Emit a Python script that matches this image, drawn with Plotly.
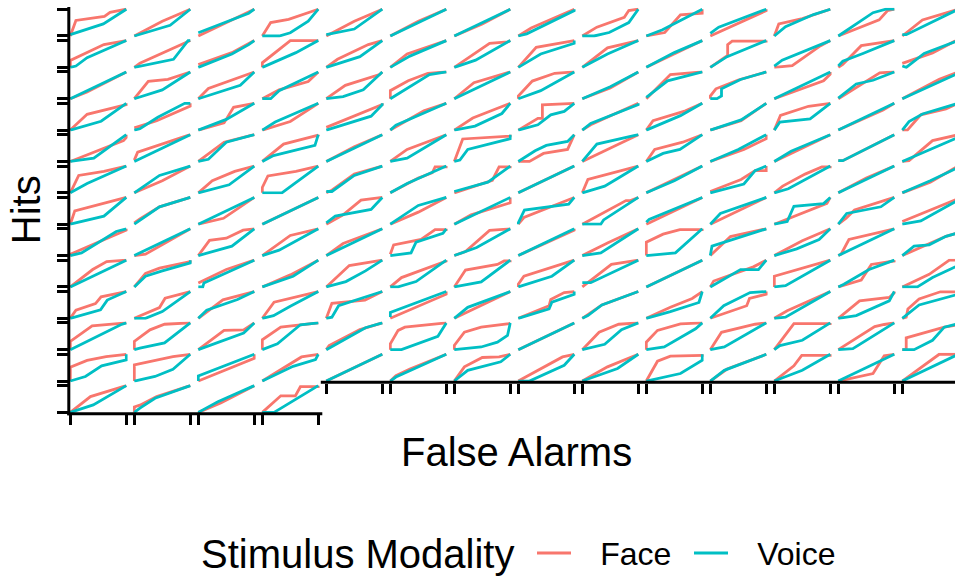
import plotly.graph_objects as go

# ---------------- data: ROC points (false-alarm rate, hit rate) per participant panel ----------------
FACE_CURVES = [
    # row 1
    [(0,0),(0.1,0.58),(0.61,0.73),(0.71,0.88),(1,1)],
    [(0,0),(0.5,0.55),(1,1)],
    [(0,0),(0.95,0.95),(1,1)],
    [(0,0),(0.15,0.5),(0.47,0.62),(1,1)],
    [(0,0),(0.5,0.55),(1,1)],
    [(0,0),(0.5,0.55),(1,1)],
    [(0,0),(0.5,0.45),(1,1)],
    [(0,0),(0.23,0.3),(1,1)],
    [(0,0),(0.26,0.33),(0.75,0.7),(0.83,0.95),(1,1)],
    [(0,0),(0.33,0.13),(0.61,0.79),(1,0.85),(1,1)],
    [(0,0),(1,0.95),(1,1)],
    [(0,0),(0.08,0.45),(0.5,0.65),(1,1)],
    [(0,0),(0.73,0.6),(0.88,0.95),(1,1)],
    [(0,0),(0.36,0.6),(1,1)],
    # row 2
    [(0,0),(0,0.26),(0.6,0.85),(1,1)],
    [(0,0),(0.1,0.15),(1,1)],
    [(0,0.1),(0.6,0.55),(1,1)],
    [(0,0),(0,0.17),(0.5,1),(1,1)],
    [(0,0),(0.2,0.3),(0.75,0.85),(1,1)],
    [(0,0),(0.3,0.5),(1,1)],
    [(0,0),(0.63,0.9),(0.95,0.95),(1,1)],
    [(0,0),(0.32,0.75),(1,1)],
    [(0,0),(0.45,0.73),(1,1)],
    [(0,0),(0.5,0.5),(1,1)],
    [(0,0),(0.31,0.45),(0.31,0.85),(0.39,0.98),(1,0.98),(1,1)],
    [(0,0),(0.32,0.06),(0.82,0.8),(1,1)],
    [(0,0),(0.08,0.11),(0.41,0.81),(1,1)],
    [(0,0.15),(0.54,0.54),(0.93,0.97),(1,1)],
    # row 3
    [(0,0),(0.3,0.25),(1,1)],
    [(0,0),(0.25,0.65),(0.6,0.72),(1,1)],
    [(0,0),(0.18,0.38),(1,1)],
    [(0,0),(0.3,0.33),(0.82,0.64),(1,1)],
    [(0,0),(0.34,0.5),(0.95,0.9),(1,1)],
    [(0,0),(0,0.3),(0.32,0.67),(0.67,0.95),(1,1)],
    [(0,0),(0.35,0.6),(1,1)],
    [(0,0),(0,0.1),(0.25,0.66),(0.65,0.95),(1,1)],
    [(0,0),(0.5,0.4),(1,1)],
    [(0,0),(0.43,0.9),(1,1)],
    [(0,0),(0,0.1),(0.1,0.37),(0.5,0.7),(1,1)],
    [(0,0),(0.88,0.67),(1,0.92),(1,1)],
    [(0,0),(0.38,0.5),(0.74,0.97),(1,1)],
    [(0,0),(0.66,0.73),(1,1)],
    # row 4
    [(0,0),(0.3,0.59),(1,0.95),(1,1)],
    [(0,0.08),(0.4,0.35),(1,0.9),(1,1)],
    [(0,0),(0.46,0.27),(0.63,0.85),(1,1)],
    [(0,0),(0.5,0.32),(1,1)],
    [(0,0.1),(0.95,0.88),(1,0.95),(1,1)],
    [(0,0),(0.6,0.72),(1,1)],
    [(0,0),(0.33,0.45),(0.75,0.8),(0.95,0.95),(1,1)],
    [(0,0),(0.35,0.44),(0.43,0.44),(0.43,0.94),(1,1)],
    [(0,0),(0.15,0.2),(1,1)],
    [(0,0),(0.12,0.35),(0.7,0.72),(1,1)],
    [(0,0),(0.55,0.35),(1,1)],
    [(0,0),(0.11,0.55),(0.61,0.89),(1,1)],
    [(0,0),(0.8,0.75),(1,1)],
    [(0,0),(0.09,0),(0.33,0.57),(0.78,0.79),(1,1)],
    # row 5
    [(0,0),(0.55,0.45),(0.95,0.78),(1,0.9),(1,1)],
    [(0,0.05),(0.06,0.35),(1,1)],
    [(0,0),(0.2,0.3),(0.46,0.72),(1,1)],
    [(0,0),(0.38,0.65),(1,0.98),(1,1)],
    [(0,0),(0.5,0.55),(1,1)],
    [(0,0),(0.3,0.45),(1,1)],
    [(0,0),(0.15,0.84),(1,0.95),(1,1)],
    [(0,0),(0.2,0),(0.45,0.3),(0.88,0.45),(1,1)],
    [(0,0),(1,1)],
    [(0,0),(0.15,0.45),(0.65,0.72),(1,1)],
    [(0,0),(0.6,0.45),(1,0.85),(1,1)],
    [(0,0),(1,1)],
    [(0,0.03),(0.08,0.03),(1,1)],
    [(0,0),(0.12,0.03),(0.54,0.78),(1,1)],
    # row 6
    [(0,0),(0.15,0.65),(0.6,0.8),(1,1)],
    [(0,0),(0.5,0.45),(1,1)],
    [(0,0),(0.25,0.45),(0.65,0.8),(1,1)],
    [(0,0),(0,0.2),(0.1,0.63),(0.6,0.8),(1,1)],
    [(0,0),(0.1,0.1),(0.5,0.7),(1,1)],
    [(0,0),(0.5,0.55),(0.75,0.75),(0.8,0.97),(1,0.97),(1,1)],
    [(0,0),(0.68,0.47),(0.8,0.97),(1,0.97),(1,1)],
    [(0,0),(1,1)],
    [(0,0),(0.1,0.5),(1,1)],
    [(0,0),(0.5,0.5),(1,1)],
    [(0,0.05),(0.55,0.5),(0.8,0.83),(1,0.83),(1,1)],
    [(0,0),(0.15,0.25),(0.55,0.7),(0.85,0.97),(1,0.97),(1,1)],
    [(0,0),(0.5,0.55),(1,1)],
    [(0,0),(0.5,0.4),(1,1)],
    # row 7
    [(0,0),(0.08,0.5),(1,1)],
    [(0,0.05),(0.1,0.2),(0.45,0.65),(0.95,0.95),(1,1)],
    [(0,0),(0.45,0.22),(1,1)],
    [(0,0),(1,1)],
    [(0,0),(0.3,0.35),(0.62,0.9),(1,1)],
    [(0,0),(0.5,0.45),(1,1)],
    [(0,0),(0.3,0.35),(1,0.8),(1,1)],
    [(0,0),(0.1,0.25),(1,1)],
    [(0,0),(0.78,0.88),(0.86,0.88),(1,1)],
    [(0,0),(1,1)],
    [(0,0),(1,1)],
    [(0,0),(0.94,0.78),(1,1)],
    [(0,0),(0.14,0.22),(0.29,0.53),(1,1)],
    [(0,0.1),(1,0.95),(1,1)],
    # row 8
    [(0,0.05),(0.5,0.5),(1,0.95),(1,1)],
    [(0,0),(0.2,0.05),(1,1)],
    [(0,0),(0.2,0.57),(0.5,0.65),(0.8,0.95),(1,1)],
    [(0,0),(0.5,0.75),(1,1)],
    [(0,0),(0.3,0.45),(1,1)],
    [(0,0.05),(0.06,0.4),(0.55,0.6),(0.8,0.97),(1,0.97),(1,1)],
    [(0,0),(0.2,0.15),(0.63,0.94),(1,1)],
    [(0,0),(1,0.95),(1,1)],
    [(0,0),(0.45,0.47),(1,1)],
    [(0,0),(0,0.5),(0.3,0.8),(0.6,0.97),(1,0.97),(1,1)],
    [(0,0),(0.36,0.71),(1,1)],
    [(0,0),(0.5,0.55),(1,1)],
    [(0,0),(0.05,0.05),(0.19,0.6),(0.7,0.85),(1,1)],
    [(0,0),(0.48,0.44),(0.78,0.72),(1,0.85),(1,1)],
    # row 9
    [(0,0),(0.4,0.65),(0.65,0.95),(1,1)],
    [(0,0),(0.2,0.5),(0.45,0.7),(1,0.95),(1,1)],
    [(0,0.15),(0.5,0.65),(1,1)],
    [(0,0),(0.5,0.45),(1,1)],
    [(0,0),(0.41,0.8),(1,1)],
    [(0,0),(0.2,0.35),(1,0.97),(1,1)],
    [(0,0),(0.2,0.63),(0.77,0.84),(0.89,0.97),(1,0.97),(1,1)],
    [(0,0),(0,0.1),(0.1,0.4),(1,1)],
    [(0,0),(0.52,0.84),(1,1)],
    [(0,0),(1,1)],
    [(0,0),(0.06,0.22),(0.77,0.75),(1,1)],
    [(0,0),(0,0.4),(1,1)],
    [(0,0),(0.41,0.26),(0.59,0.84),(1,0.97),(1,1)],
    [(0,0),(0.48,0.47),(0.84,1),(1,1)],
    # row 10
    [(0,0),(0.1,0.3),(0.45,0.55),(0.55,0.8),(1,1)],
    [(0,0),(0.45,0.4),(0.55,0.75),(1,1)],
    [(0,0),(0.44,0.69),(1,1)],
    [(0,0),(0.21,0.6),(1,1)],
    [(0,0),(0.1,0.56),(0.69,0.68),(1,1)],
    [(0,0),(1,0.9),(1,1)],
    [(0,0),(1,1)],
    [(0,0),(0.55,0.47),(0.58,0.7),(0.82,0.96),(1,1)],
    [(0,0),(0.35,0.5),(1,1)],
    [(0,0),(0.43,0.41),(0.82,0.74),(1,1)],
    [(0,0),(0.65,0.47),(0.7,0.74),(1,0.9),(1,1)],
    [(0,0),(0.23,0.28),(1,1)],
    [(0,0),(0.38,0.65),(0.91,0.78),(1,0.95),(1,1)],
    [(0,0),(0.07,0.04),(0.1,0.35),(0.3,0.72),(0.68,0.99),(1,0.99)],
    # row 11
    [(0,0),(0,0.31),(0.39,0.89),(1,0.99),(1,1)],
    [(0,0),(0,0.31),(0.28,0.74),(0.54,0.95),(1,1)],
    [(0,0),(0.46,0.72),(0.81,0.74),(1,1)],
    [(0,0),(0,0.37),(0.33,0.84),(0.68,0.93),(1,1)],
    [(0,0),(0.05,0.15),(0.6,0.75),(1,1)],
    [(0,0),(0,0.22),(0.14,0.72),(0.26,0.84),(1,1)],
    [(0,0),(0,0.16),(0.18,0.65),(0.48,0.84),(0.98,0.97),(1,1)],
    [(0,0),(1,1)],
    [(0,0),(0.3,0.65),(0.65,0.95),(1,1)],
    [(0,0),(0,0.28),(0.2,0.72),(0.61,0.96),(1,1)],
    [(0,0),(0.2,0.65),(0.8,0.95),(1,1)],
    [(0,0),(0.35,0.97),(1,0.97),(1,1)],
    [(0,0),(0.65,0.86),(0.82,0.94),(1,1)],
    [(0,0),(0.07,0),(0.07,0.44),(0.75,0.84),(1,0.93)],
    # row 12
    [(0,0),(0,0.52),(0.3,0.77),(0.64,0.91),(1,1)],
    [(0,0),(0,0.6),(0.69,0.91),(1,1)],
    [(0,0),(1,0.85),(1,1)],
    [(0,0),(0.4,0.52),(0.7,0.9),(1,1)],
    [(0,0),(1,1)],
    [(0,0),(0.1,0.2),(0.35,0.45),(1,1)],
    [(0,0),(0.18,0.53),(0.5,0.88),(0.8,0.9),(1,1)],
    [(0,0),(0.79,0.9),(1,1)],
    [(0,0),(0.45,0.53),(1,1)],
    [(0,0),(0.2,0.74),(0.43,0.93),(1,0.96),(1,1)],
    [(0,0),(0.3,0.45),(1,1)],
    [(0,0),(0.35,0.57),(0.49,0.96),(1,0.96),(1,1)],
    [(0,0),(0.62,0.28),(0.82,0.94),(1,1)],
    [(0,0),(0.66,1),(1,1)],
    # row 13
    [(0,0),(0.36,0.59),(1,1)],
    [(0,0),(0,0.2),(0.1,0.27),(0.4,0.59),(1,1)],
    [(0,0),(0.4,0.35),(1,1)],
    [(0,0),(0.33,0.62),(0.59,0.62),(0.68,0.96),(1,0.96),(1,1)],
]

VOICE_CURVES = [
    # row 1
    [(0,0.05),(0.59,0.45),(1,1)],
    [(0,0),(0.64,0.4),(1,1)],
    [(0,0.12),(0.6,0.6),(0.9,0.85),(1,1)],
    [(0,0),(0.3,0),(0.5,0.12),(0.82,0.55),(1,1)],
    [(0,0.05),(0.5,0.26),(1,1)],
    [(0,0),(0.5,0.5),(1,1)],
    [(0,0),(0.5,0.5),(1,1)],
    [(0,0),(0.15,0.08),(1,0.95),(1,1)],
    [(0,0),(0.21,0),(0.48,0.13),(0.83,0.5),(1,1)],
    [(0,0),(0.29,0.23),(1,1)],
    [(0,0.1),(0.15,0.33),(1,1)],
    [(0,0),(0.2,0.35),(0.7,0.8),(1,1)],
    [(0,0),(0.62,0.87),(0.85,1),(1,1)],
    [(0,0.05),(0.07,0.05),(1,1)],
    # row 2
    [(0,0),(0.1,0.05),(0.3,0.36),(1,1)],
    [(0,0),(0.7,0.3),(0.96,1),(1,1)],
    [(0,0),(0.6,0.5),(0.9,0.85),(1,1)],
    [(0,0),(0.6,0.55),(1,1)],
    [(0,0),(0.6,0.4),(1,1)],
    [(0,0),(0.35,0.42),(1,1)],
    [(0,0),(0.38,0.27),(1,1)],
    [(0,0),(0.4,0.5),(1,0.9),(1,1)],
    [(0,0),(0.45,0.5),(1,1)],
    [(0,0),(0.5,0.55),(1,1)],
    [(0,0),(0.3,0.4),(1,1)],
    [(0,0.05),(0.14,0.27),(1,1)],
    [(0,0.05),(0.08,0.23),(0.44,0.52),(1,1)],
    [(0,0.05),(0.07,0),(0.39,0.52),(1,1)],
    # row 3
    [(0,0),(0.3,0.3),(1,1)],
    [(0,0),(0.5,0.33),(1,1)],
    [(0,0),(0.75,0.5),(1,1)],
    [(0,0),(0.15,0),(0.3,0.3),(1,1)],
    [(0,0),(0.3,0.08),(0.66,0.33),(1,1)],
    [(0,0),(0.7,0.9),(1,1)],
    [(0,0),(0.5,0.5),(1,1)],
    [(0,0),(0.4,0.3),(1,1)],
    [(0,0),(0.5,0.45),(1,1)],
    [(0,0.05),(0.38,0.67),(1,1)],
    [(0,0),(0.12,0),(0.2,0.1),(0.2,0.37),(0.54,0.72),(1,1)],
    [(0,0),(1,1)],
    [(0,0.02),(0.32,0.55),(0.62,0.69),(1,1)],
    [(0,0),(1,0.95),(1,1)],
    # row 4
    [(0,0),(0.55,0.33),(1,1)],
    [(0,0),(0.1,0.05),(0.42,0.48),(0.9,1),(1,1)],
    [(0,0),(0.5,0.4),(1,1)],
    [(0,0),(0.23,0.3),(1,1)],
    [(0,0),(0.8,0.52),(1,0.95),(1,1)],
    [(0,0),(0.1,0.18),(1,1)],
    [(0,0),(0.37,0.15),(0.85,0.62),(1,1)],
    [(0,0),(0.35,0.2),(0.58,0.57),(0.82,0.7),(1,1)],
    [(0,0),(0.15,0.25),(1,0.95),(1,1)],
    [(0,0),(0.61,0.54),(1,1)],
    [(0,0),(0.55,0.38),(1,1)],
    [(0,0),(0.1,0.3),(0.64,0.42),(1,1)],
    [(0,0),(1,1)],
    [(0,0),(0.12,0.32),(0.36,0.6),(1,1)],
    # row 5
    [(0,0),(0.42,0.12),(1,1)],
    [(0,0),(1,1)],
    [(0,0),(0.18,0.08),(0.5,0.72),(1,1)],
    [(0,0),(0.2,0.22),(0.94,0.6),(1,1)],
    [(0,0),(0.5,0.5),(1,1)],
    [(0,0),(0.3,0.12),(1,1)],
    [(0,0),(0.1,0.05),(0.24,0.45),(1,0.85),(1,1)],
    [(0,0),(0.3,0.4),(0.5,0.6),(0.88,0.75),(1,1)],
    [(0,0),(0.26,0.65),(1,1)],
    [(0,0),(0.3,0.3),(0.6,0.45),(1,1)],
    [(0,0),(0.5,0.45),(1,1)],
    [(0,0),(0.3,0.38),(1,1)],
    [(0,0.03),(0.08,0.03),(1,1)],
    [(0,0),(1,0.9),(1,1)],
    # row 6
    [(0,0),(0.3,0.35),(1,1)],
    [(0,0),(0.45,0.65),(1,1)],
    [(0,0),(0.55,0.3),(1,1)],
    [(0,0),(0.35,0),(0.58,0.35),(1,1)],
    [(0,0.05),(0.1,0.05),(0.5,0.65),(1,1)],
    [(0,0),(0.3,0.35),(1,1)],
    [(0,0.05),(0.6,0.4),(1,1)],
    [(0,0),(1,1)],
    [(0,0),(0.4,0.25),(0.6,0.5),(1,1)],
    [(0,0),(0.5,0.45),(1,1)],
    [(0,0),(0.6,0.33),(0.8,0.83),(1,1)],
    [(0,0),(0.25,0.15),(1,1)],
    [(0,0),(1,1)],
    [(0,0),(0.5,0.45),(1,0.95),(1,1)],
    # row 7
    [(0,0),(0.6,0.3),(1,1)],
    [(0,0),(0.45,0.65),(1,1)],
    [(0,0),(1,1)],
    [(0,0),(1,1)],
    [(0,0.05),(0.16,0.3),(0.8,0.55),(1,1)],
    [(0,0),(0.5,0.7),(1,1)],
    [(0,0),(1,1)],
    [(0,0),(0,0.05),(0.11,0.53),(0.9,0.75),(1,1)],
    [(0,0),(0.33,0),(0.38,0.16),(1,1)],
    [(0,0.07),(0.05,0.18),(1,1)],
    [(0,0),(0.18,0.4),(1,1)],
    [(0,0),(0.23,0.1),(0.35,0.67),(0.88,0.77),(1,1)],
    [(0,0),(0.15,0.4),(0.76,0.65),(1,1)],
    [(0,0),(0.33,0.12),(1,0.9),(1,1)],
    # row 8
    [(0,0),(0.2,0.1),(0.82,0.9),(1,1)],
    [(0,0),(1,1)],
    [(0,0),(0.6,0.35),(1,1)],
    [(0,0),(0.3,0.2),(1,1)],
    [(0,0),(0.35,0.35),(1,1)],
    [(0,0),(0.37,0.1),(0.46,0.5),(0.94,0.83),(1,1)],
    [(0,0),(0.4,0.3),(1,1)],
    [(0,0),(1,1)],
    [(0,0),(0.33,0.1),(1,1)],
    [(0,0),(0.52,0.1),(1,1)],
    [(0,0),(0.03,0.35),(1,1)],
    [(0,0),(0.4,0.25),(0.8,0.6),(1,1)],
    [(0,0),(1,1)],
    [(0,0),(0.21,0.35),(0.48,0.4),(0.78,0.72),(1,0.85),(1,1)],
    # row 9
    [(0,0),(0.1,0.1),(1,1)],
    [(0,0),(0.2,0.4),(0.5,0.6),(1,0.9),(1,1)],
    [(0,0),(0.08,0),(0.1,0.15),(1,1)],
    [(0,0),(0.55,0.4),(1,1)],
    [(0,0),(0.35,0.2),(0.7,0.6),(1,1)],
    [(0,0),(0.14,0),(0.46,0.2),(1,1)],
    [(0,0),(0.48,0.19),(1,1)],
    [(0,0),(0.6,0.4),(1,1)],
    [(0,0.16),(0.15,0.16),(1,1)],
    [(0,0),(1,1)],
    [(0,0),(0.54,0.65),(0.86,0.65),(1,1)],
    [(0,0),(0.2,0.05),(1,1)],
    [(0,0),(0.1,0.1),(0.55,0.65),(1,1)],
    [(0,0),(0.27,0),(0.54,0.35),(1,0.8),(1,1)],
    # row 10
    [(0,0),(0.54,0.32),(0.66,0.68),(1,1)],
    [(0,0),(0.2,0),(0.5,0.25),(1,1)],
    [(0,0),(0.15,0.3),(0.7,0.7),(1,1)],
    [(0,0),(0.2,0.1),(0.5,0.45),(1,1)],
    [(0,0),(0.1,0.04),(0.22,0.47),(1,1)],
    [(0,0.05),(0,0.22),(1,1)],
    [(0,0),(0.24,0.41),(1,1)],
    [(0,0),(0.55,0.35),(0.6,0.6),(1,0.9),(1,1)],
    [(0,0),(0.1,0.1),(0.35,0.5),(1,1)],
    [(0,0),(0.43,0.25),(0.94,0.59),(1,1)],
    [(0,0),(0.24,0.47),(0.71,0.96),(1,0.98),(1,1)],
    [(0,0),(0.2,0.04),(1,1)],
    [(0,0),(0.32,0.1),(0.91,0.65),(1,1)],
    [(0,0),(0.3,0.5),(1,0.9),(1,1)],
    # row 11
    [(0,0),(0.9,0.93),(1,1)],
    [(0,0),(0.1,0.06),(0.54,0.25),(1,1)],
    [(0,0),(0.81,0.62),(1,1)],
    [(0,0),(0.27,0.22),(0.68,0.93),(1,1)],
    [(0,0),(0.7,0.82),(1,1)],
    [(0,0),(0.2,0),(0.85,0.5),(1,1)],
    [(0,0),(0.48,0.1),(0.77,0.28),(0.95,0.53),(1,1)],
    [(0,0),(1,1)],
    [(0,0),(0.4,0.2),(0.7,0.75),(1,1)],
    [(0,0),(0.32,0.1),(0.88,0.78),(1,1)],
    [(0,0),(0.25,0.1),(1,1)],
    [(0,0),(0.1,0.15),(0.5,0.35),(1,1)],
    [(0,0),(0.26,0.04),(1,1)],
    [(0,0),(0.21,0),(0.54,0.35),(0.75,0.84),(1,0.97),(1,1)],
    # row 12
    [(0,0),(0.27,0.17),(0.56,0.57),(1,0.79),(1,1)],
    [(0,0),(0.37,0.17),(0.69,0.44),(1,1)],
    [(0,0),(0,0.19),(1,1)],
    [(0,0),(0.55,0.55),(0.95,0.8),(1,1)],
    [(0,0),(1,1)],
    [(0,0),(0.1,0.15),(1,1)],
    [(0,0),(0.24,0.4),(0.83,0.72),(1,1)],
    [(0,0),(0.2,0),(0.82,0.59),(1,1)],
    [(0,0),(0.63,0.47),(1,1)],
    [(0,0),(0.61,0.28),(1,0.78),(1,1)],
    [(0,0),(0.25,0.4),(1,1)],
    [(0,0),(0.5,0.4),(1,1)],
    [(0,0),(1,1)],
    [(0,0),(1,1)],
    # row 13
    [(0,0),(0.41,0.28),(1,1)],
    [(0,0),(0.1,0.16),(0.37,0.53),(1,1)],
    [(0,0),(0.35,0.4),(1,1)],
    [(0,0),(0.21,0),(1,1)],
]

MODALITIES = ["Face", "Voice"]
COLORS = {"Face": "#F8766D", "Voice": "#00BFC4"}
X_TITLE = "False Alarms"
Y_TITLE = "Hits"
LEGEND_TITLE = "Stimulus Modality"

# ---------------- layout geometry (pixels) ----------------
W, H = 955, 581
N_COLS = 14
LEFT, PITCH_X, PANEL_W = 70.3, 64.0, 56.0
TOP, PITCH_Y, PANEL_H = 9.3, 31.64, 27.0
PAD = 1.5  # small expansion so boundary lines are not half-clipped
FONT = "Liberation Sans, Arial, sans-serif"
KEY_SPACER = "\u00a0\u00a0\u2009"  # gap between legend key and its label

n_panels = len(FACE_CURVES)
fig = go.Figure()
layout_axes = {}

for i in range(n_panels):
    r, c = divmod(i, N_COLS)
    k = i + 1
    xa = "x" if k == 1 else f"x{k}"
    ya = "y" if k == 1 else f"y{k}"

    x0 = LEFT + c * PITCH_X - PAD
    x1 = LEFT + c * PITCH_X + PANEL_W + PAD
    xr = [-PAD / PANEL_W, 1 + PAD / PANEL_W]
    if x1 > W:
        xr[1] = xr[0] + (W - x0) / PANEL_W
        x1 = W
    ytop = TOP + r * PITCH_Y - PAD
    ybot = TOP + r * PITCH_Y + PANEL_H + PAD
    yr = [-PAD / PANEL_H, 1 + PAD / PANEL_H]

    is_bottom = (i + N_COLS) >= n_panels
    is_left = c == 0

    layout_axes["xaxis" if k == 1 else f"xaxis{k}"] = dict(
        domain=[x0 / W, x1 / W], range=xr, anchor=ya,
        showgrid=False, zeroline=False, showline=False, showticklabels=False,
        ticks="outside" if is_bottom else "", tickmode="array", tickvals=[0, 1],
        ticklen=10, tickwidth=3, tickcolor="black", fixedrange=True,
    )
    layout_axes["yaxis" if k == 1 else f"yaxis{k}"] = dict(
        domain=[1 - ybot / H, 1 - ytop / H], range=yr, anchor=xa,
        showgrid=False, zeroline=False, showline=False, showticklabels=False,
        ticks="outside" if is_left else "", tickmode="array", tickvals=[0, 1],
        ticklen=11, tickwidth=3, tickcolor="black", fixedrange=True,
    )

    for name, curves in (("Face", FACE_CURVES), ("Voice", VOICE_CURVES)):
        pts = curves[i]
        fig.add_trace(go.Scatter(
            x=[p[0] for p in pts], y=[p[1] for p in pts],
            mode="lines", name=KEY_SPACER + name, legendgroup=name, showlegend=(i == 0),
            line=dict(color=COLORS[name], width=2.8),
            xaxis=xa, yaxis=ya, hoverinfo="skip",
        ))

# continuous axis lines (left spine, and the two bottom spines of the ragged facet grid)
n_rows = (n_panels + N_COLS - 1) // N_COLS
last_row_cols = n_panels - (n_rows - 1) * N_COLS
bottom_full = TOP + (n_rows - 1) * PITCH_Y + PANEL_H + 1.3
bottom_prev = TOP + (n_rows - 2) * PITCH_Y + PANEL_H + 1.3
split_x = LEFT + last_row_cols * PITCH_X - (PITCH_X - PANEL_W) / 2
spine_x = LEFT - 1.5
line_style = dict(color="black", width=3)
shapes = [
    dict(type="line", xref="paper", yref="paper", x0=spine_x / W, x1=spine_x / W,
         y0=1 - 7 / H, y1=1 - (bottom_full + 1.5) / H, line=line_style),
    dict(type="line", xref="paper", yref="paper", x0=(spine_x - 1.5) / W, x1=split_x / W,
         y0=1 - bottom_full / H, y1=1 - bottom_full / H, line=line_style),
    dict(type="line", xref="paper", yref="paper", x0=(split_x - 1.5) / W, x1=1,
         y0=1 - bottom_prev / H, y1=1 - bottom_prev / H, line=line_style),
]

annotations = [
    dict(text=X_TITLE, xref="paper", yref="paper", x=516 / W, y=1 - 456 / H,
         xanchor="center", yanchor="middle", showarrow=False,
         font=dict(family=FONT, size=40, color="black")),
    dict(text=Y_TITLE, xref="paper", yref="paper", x=26 / W, y=1 - 212 / H,
         xanchor="center", yanchor="middle", showarrow=False, textangle=-90,
         font=dict(family=FONT, size=40, color="black")),
    dict(text=LEGEND_TITLE, xref="paper", yref="paper", x=199 / W, y=1 - 559 / H,
         xanchor="left", yanchor="middle", showarrow=False,
         font=dict(family=FONT, size=40, color="black")),
]

fig.update_layout(
    width=W, height=H, autosize=False,
    margin=dict(l=0, r=0, t=0, b=0),
    paper_bgcolor="white", plot_bgcolor="white",
    font=dict(family=FONT, color="black"),
    showlegend=True,
    legend=dict(
        orientation="h", x=532 / W, xanchor="left", y=1 - 558 / H, yanchor="middle",
        font=dict(size=32, family=FONT, color="black"), bgcolor="rgba(0,0,0,0)",
        itemwidth=34, entrywidth=108, entrywidthmode="pixels",
    ),
    shapes=shapes, annotations=annotations,
    **layout_axes,
)

fig.write_html(
    "out.html",
    config={"displayModeBar": False, "staticPlot": True},
    post_script="document.body.style.margin='0';document.body.style.overflow='hidden';",
)
